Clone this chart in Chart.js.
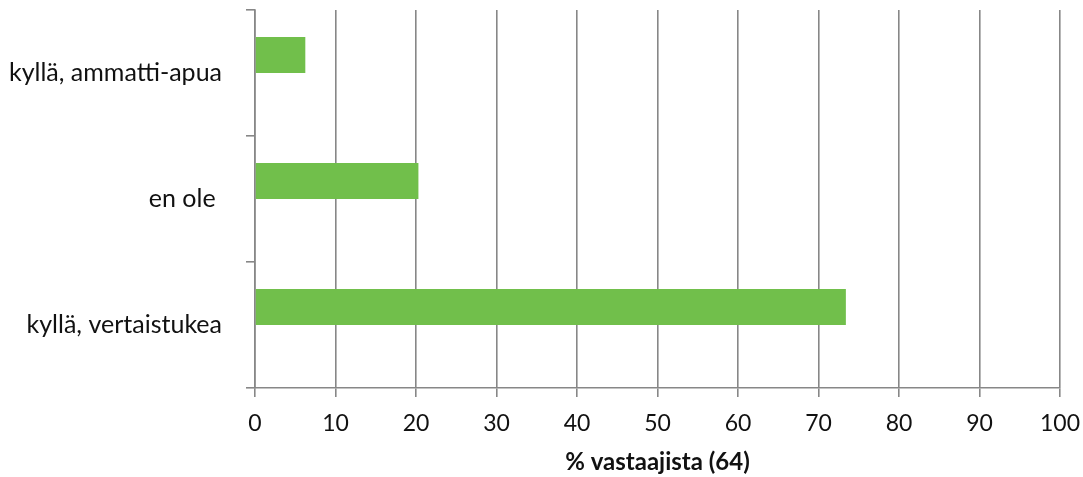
<!DOCTYPE html>
<html>
<head>
<meta charset="utf-8">
<script src="https://cdn.jsdelivr.net/npm/chart.js@4"></script>
<style>
  html, body { margin: 0; padding: 0; background: #fff; }
  #wrap { width: 1083px; height: 477px; }
</style>
</head>
<body>
<div id="wrap"><canvas id="myChart" width="1083" height="477"></canvas></div>
<script>
const categories = ['kyllä, ammatti-apua', 'en ole ', 'kyllä, vertaistukea'];
const values = [6.25, 20.3, 73.4];
const emptySeries = [null, null, null];
const axisTitle = '% vastaajista (64)';

const lineColor = '#878787';
const textColor = '#111111';
const fontName = "Lato, 'Open Sans', sans-serif";

const ctx = document.getElementById('myChart');

new Chart(ctx, {
  type: 'bar',
  data: {
    labels: categories,
    datasets: [{
      label: 'vastaajat',
      data: values,
      backgroundColor: '#71bf4b',
      borderWidth: 0,
      categoryPercentage: 0.571,
      barPercentage: 1.0
    }, {
      label: 'tyhjä',
      data: emptySeries,
      backgroundColor: '#71bf4b',
      borderWidth: 0,
      categoryPercentage: 0.571,
      barPercentage: 1.0
    }]
  },
  options: {
    indexAxis: 'y',
    responsive: false,
    devicePixelRatio: 1,
    animation: false,
    layout: { padding: { top: 10, right: 23, left: 0, bottom: 0 } },
    plugins: {
      legend: { display: false },
      tooltip: { enabled: false }
    },
    scales: {
      x: {
        min: 0,
        max: 100,
        ticks: {
          stepSize: 10,
          color: textColor,
          padding: 13,
          font: { family: fontName, size: 23 }
        },
        grid: {
          color: lineColor,
          lineWidth: 1.6,
          tickLength: 9
        },
        border: { color: lineColor, width: 1.6 },
        title: {
          display: true,
          text: axisTitle,
          color: textColor,
          font: { family: fontName, size: 24, weight: 'bold' },
          padding: { top: 0, bottom: 0 }
        },
        afterFit: function(scale) {
          scale.height = 89;
          scale.paddingLeft = 0;
          scale.paddingRight = 0;
        }
      },
      y: {
        grid: {
          drawOnChartArea: false,
          color: lineColor,
          lineWidth: 1.6,
          tickLength: 9
        },
        border: { color: lineColor, width: 1.6 },
        ticks: {
          color: textColor,
          padding: 24,
          font: { family: fontName, size: 25 }
        },
        afterFit: function(scale) {
          scale.width = 255;
          scale.paddingTop = 0;
          scale.paddingBottom = 0;
        }
      }
    }
  }
});
</script>
</body>
</html>
